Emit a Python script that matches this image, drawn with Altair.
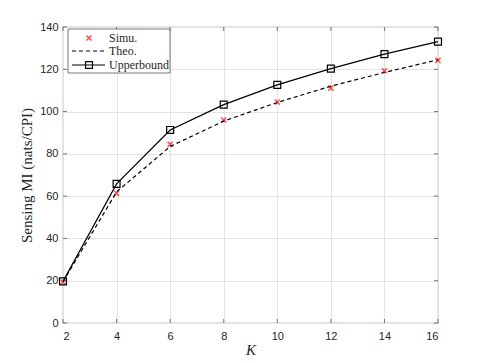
import altair as alt
import pandas as pd

K = [2, 4, 6, 8, 10, 12, 14, 16]
simu = [19.4, 61.3, 84.5, 96.0, 104.5, 111.1, 119.3, 124.2]
theo = [19.5, 62.0, 83.5, 95.5, 104.3, 112.0, 118.5, 124.5]
upper = [19.7, 65.8, 91.3, 103.3, 112.6, 120.3, 127.2, 133.1]
x_ticks = [2, 4, 6, 8, 10, 12, 14, 16]
y_ticks = [0, 20, 40, 60, 80, 100, 120, 140]
legend_labels = ["Simu.", "Theo.", "Upperbound"]

df = pd.DataFrame({"K": K, "Simu": simu, "Theo": theo, "Upper": upper})

W, H = 375, 296
TXT = "#262626"
GRID = "#e3e3e3"
xs = alt.Scale(domain=[2, 16], nice=False, zero=False)
ys = alt.Scale(domain=[0, 140], nice=False)

xax = alt.Axis(values=x_ticks, grid=True, gridColor=GRID, tickSize=0, domain=False,
               labelFont="Liberation Sans", labelFontSize=11, labelColor=TXT, labelPadding=7,
               title="K", titleFont="Liberation Serif", titleFontStyle="italic",
               titleFontWeight="normal", titleFontSize=15, titleColor=TXT, titlePadding=1)
yax = alt.Axis(values=y_ticks, grid=True, gridColor=GRID, tickSize=0, domain=False,
               labelFont="Liberation Sans", labelFontSize=11, labelColor=TXT, labelPadding=5,
               title="Sensing MI (nats/CPI)", titleFont="Liberation Serif",
               titleFontWeight="normal", titleFontSize=15, titleColor=TXT, titlePadding=5)

base = alt.Chart(df).encode(x=alt.X("K:Q", scale=xs, axis=xax))

upper_line = base.mark_line(color="black", strokeWidth=1.2).encode(
    y=alt.Y("Upper:Q", scale=ys, axis=yax))
theo_line = base.mark_line(color="black", strokeWidth=1.2, strokeDash=[4, 3]).encode(
    y=alt.Y("Theo:Q", scale=ys))
XPATH = "M-1,-1L1,1M-1,1L1,-1"
simu_pts = base.mark_point(shape=XPATH, size=26, color="red", strokeWidth=1.5, filled=False).encode(
    y=alt.Y("Simu:Q", scale=ys))
upper_pts = base.mark_point(shape="square", size=48, color="black", strokeWidth=1.2,
                            filled=False, opacity=1).encode(y=alt.Y("Upper:Q", scale=ys))

dx = pd.DataFrame({"v": x_ticks})
dy = pd.DataFrame({"v": y_ticks})
tick_kw = dict(color="#555555", strokeWidth=0.8)
xt_bot = alt.Chart(dx).mark_rule(**tick_kw).encode(
    x=alt.X("v:Q", scale=xs), y=alt.value(H), y2=alt.value(H - 4))
xt_top = alt.Chart(dx).mark_rule(**tick_kw).encode(
    x=alt.X("v:Q", scale=xs), y=alt.value(0), y2=alt.value(4))
yt_left = alt.Chart(dy).mark_rule(**tick_kw).encode(
    y=alt.Y("v:Q", scale=ys), x=alt.value(0), x2=alt.value(4))
yt_right = alt.Chart(dy).mark_rule(**tick_kw).encode(
    y=alt.Y("v:Q", scale=ys), x=alt.value(W - 4), x2=alt.value(W))

# legend
leg_df = [pd.DataFrame({"label": [l]}) for l in legend_labels]
leg_box = alt.Chart(leg_df[0]).mark_rect(fill="white", stroke="#555555", strokeWidth=0.8).encode(
    x=alt.value(5), x2=alt.value(107), y=alt.value(2), y2=alt.value(46))
rows_y = [11, 24, 38]
leg_texts = [
    alt.Chart(leg_df[i]).mark_text(align="left", baseline="middle", font="Liberation Serif",
                                   fontSize=12, color=TXT).encode(
        text="label:N", x=alt.value(46), y=alt.value(rows_y[i]))
    for i in range(3)
]
leg_simu = alt.Chart(leg_df[0]).mark_point(shape=XPATH, size=26, color="red", strokeWidth=1.5,
                                           filled=False).encode(x=alt.value(26), y=alt.value(rows_y[0]))
leg_theo = alt.Chart(leg_df[1]).mark_rule(color="black", strokeWidth=1.2, strokeDash=[4, 3]).encode(
    x=alt.value(9), x2=alt.value(42), y=alt.value(rows_y[1]))
leg_up_line = alt.Chart(leg_df[2]).mark_rule(color="black", strokeWidth=1.2).encode(
    x=alt.value(9), x2=alt.value(42), y=alt.value(rows_y[2]))
leg_up_pt = alt.Chart(leg_df[2]).mark_point(shape="square", size=48, color="black", strokeWidth=1.2,
                                            filled=False, opacity=1).encode(
    x=alt.value(26), y=alt.value(rows_y[2]))

chart = alt.layer(
    upper_line, xt_bot, xt_top, yt_left, yt_right,
    simu_pts, theo_line, upper_pts,
    leg_box, *leg_texts, leg_simu, leg_theo, leg_up_line, leg_up_pt,
).properties(
    width=W, height=H,
    autosize=alt.AutoSizeParams(type="none"),
    padding={"left": 55, "top": 19, "right": 39, "bottom": 40},
    background="white",
).configure_view(stroke="#555555", strokeWidth=0.8)

chart.save("out.html", embed_options={"renderer": "svg", "actions": False})
